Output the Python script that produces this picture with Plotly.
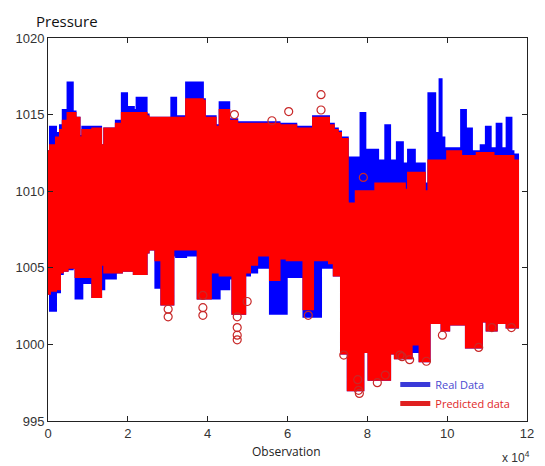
import plotly.graph_objects as go

# Observation index where each step segment starts (last entry = end of data)
obs = [0, 500, 2000, 3000, 3700, 4900, 6200, 6900, 7900, 8600, 11100, 13300, 14100,
       17000, 18500, 19800, 21500, 22200, 24700, 25200, 26900, 28400, 30900, 31400,
       32100, 34600, 37500, 38800, 39300, 40800, 42000, 43000, 45400, 46200, 47400,
       49400, 50600, 52400, 55600, 58000, 59800, 62200, 64000, 66400, 68400, 70400,
       71600, 72600, 73400, 75100, 77100, 78300, 79000, 79500, 80300, 82000, 82700,
       84500, 85700, 86900, 87400, 88900, 89400, 90200, 91100, 91900, 93100, 94400,
       95300, 95600, 97000, 98100, 98600, 99300, 100000, 100500, 103500, 104700,
       106200, 107400, 108400, 108700, 109700, 109900, 110900, 111600, 112400,
       113600, 114900, 116100, 116600, 118000]

# Predicted data: upper / lower envelope of the dense point cloud
pred_max = [1012.6, 1013.0, 1013.5, 1014.0, 1014.6, 1015.1, 1015.1, 1014.8, 1013.5, 1014.0,
            1014.1, 1013.0, 1014.1, 1014.4, 1015.1, 1015.1, 1015.1, 1015.1, 1014.9, 1014.8,
            1014.8, 1014.8, 1014.8, 1014.8, 1014.8, 1016.0, 1016.0, 1015.9, 1014.8, 1014.8,
            1014.2, 1015.3, 1014.6, 1014.6, 1014.4, 1014.4, 1014.4, 1014.4, 1014.4, 1014.3,
            1014.3, 1014.1, 1014.1, 1014.8, 1014.8, 1014.3, 1014.0, 1013.8, 1013.4, 1009.2,
            1010.0, 1010.0, 1010.0, 1010.0, 1010.0, 1010.5, 1010.5, 1010.5, 1010.5, 1010.5,
            1010.5, 1010.5, 1010.1, 1011.2, 1011.2, 1011.2, 1011.2, 1010.0, 1012.0, 1012.0,
            1012.0, 1012.0, 1012.0, 1012.0, 1012.6, 1012.6, 1012.3, 1012.3, 1012.3, 1012.5,
            1012.5, 1012.5, 1012.5, 1012.5, 1012.5, 1012.3, 1012.3, 1012.3, 1012.3, 1012.3,
            1012.0, 1012.0]
pred_min = [1003.3, 1003.5, 1003.6, 1004.7, 1004.8, 1005.0, 1005.0, 1004.4, 1004.4, 1004.4,
            1003.1, 1005.2, 1004.7, 1004.7, 1004.8, 1004.8, 1004.6, 1004.6, 1006.0, 1006.2,
            1005.5, 1002.6, 1002.6, 1006.2, 1006.2, 1006.2, 1003.0, 1003.0, 1003.0, 1004.7,
            1004.7, 1004.5, 1004.5, 1002.0, 1002.0, 1004.7, 1005.2, 1005.8, 1004.2, 1005.6,
            1005.5, 1005.5, 1002.3, 1005.5, 1005.5, 1005.3, 1004.5, 1004.5, 999.4, 997.0,
            997.0, 997.0, 999.5, 999.5, 997.7, 997.7, 997.7, 997.7, 999.4, 999.1,
            999.1, 999.1, 999.1, 999.1, 1000.0, 1000.0, 998.9, 998.9, 998.9, 1001.4,
            1001.4, 1001.4, 1000.9, 1000.9, 1000.9, 1001.3, 1001.3, 999.8, 999.8, 999.8,
            999.8, 1001.5, 1001.5, 1000.9, 1000.9, 1000.9, 1001.4, 1001.4, 1001.1, 1001.1,
            1001.1, 1001.1]

# Real data: upper / lower envelope
real_max = [1012.6, 1014.2, 1013.8, 1014.3, 1015.3, 1017.1, 1015.2, 1014.8, 1013.6, 1014.2,
            1014.2, 1013.0, 1014.1, 1014.6, 1016.4, 1015.5, 1015.3, 1016.1, 1015.0, 1014.8,
            1014.8, 1014.8, 1016.1, 1016.1, 1014.9, 1017.1, 1017.1, 1016.0, 1014.9, 1014.9,
            1014.3, 1015.8, 1014.7, 1014.7, 1014.5, 1014.5, 1014.5, 1014.5, 1014.5, 1014.4,
            1014.4, 1014.2, 1014.2, 1014.9, 1014.9, 1014.4, 1014.1, 1013.9, 1013.5, 1012.2,
            1012.2, 1015.1, 1015.1, 1012.7, 1012.7, 1012.7, 1012.0, 1014.3, 1012.0, 1011.8,
            1013.2, 1011.8, 1011.8, 1012.7, 1012.7, 1011.8, 1011.8, 1010.5, 1016.4, 1016.4,
            1013.8, 1017.3, 1013.5, 1012.8, 1012.8, 1012.8, 1015.3, 1014.1, 1012.6, 1012.6,
            1013.0, 1013.0, 1014.2, 1014.2, 1012.8, 1012.8, 1014.4, 1012.8, 1014.8, 1012.6,
            1012.4, 1012.4]
real_min = [1003.3, 1002.2, 1003.4, 1004.6, 1004.8, 1004.9, 1005.0, 1003.0, 1003.0, 1004.0,
            1003.1, 1003.6, 1004.3, 1004.7, 1004.8, 1004.8, 1004.6, 1004.6, 1006.0, 1006.2,
            1003.7, 1002.6, 1002.6, 1005.8, 1005.7, 1005.8, 1003.0, 1003.0, 1003.0, 1003.0,
            1003.0, 1003.6, 1004.3, 1002.0, 1002.0, 1004.5, 1004.7, 1005.0, 1002.0, 1002.0,
            1004.4, 1004.4, 1001.8, 1001.8, 1005.0, 1005.0, 1004.5, 1004.5, 999.4, 997.0,
            997.0, 997.0, 999.5, 999.5, 997.7, 997.7, 997.7, 997.7, 999.4, 999.1,
            999.1, 999.1, 999.1, 999.1, 999.5, 999.5, 998.9, 998.9, 998.9, 1001.4,
            1001.4, 1001.4, 1000.9, 1000.9, 1000.9, 1001.3, 1001.3, 999.8, 999.8, 999.8,
            999.8, 1001.5, 1001.5, 1000.9, 1000.9, 1000.9, 1001.4, 1001.4, 1001.1, 1001.1,
            1001.1, 1001.1]

# Isolated predicted points visible as open circles
out_obs = [68400, 68400, 60300, 56100, 46700, 49900, 38800, 38800, 38800, 47400, 47400,
           47400, 47400, 65200, 74100, 77800, 77600, 82500, 84500, 88700, 79000, 88200,
           90600, 94800, 98800, 107900, 111200, 116100, 30100, 30100, 78000]
out_val = [1016.3, 1015.3, 1015.2, 1014.6, 1015.0, 1002.8, 1003.2, 1002.4, 1001.9, 1001.8,
           1001.1, 1000.6, 1000.3, 1001.9, 999.3, 997.0, 997.7, 997.5, 998.0, 999.2,
           1010.9, 999.3, 999.0, 998.9, 1000.6, 999.8, 1001.1, 1001.1, 1002.3, 1001.8, 996.8]

xtick_vals = [0, 20000, 40000, 60000, 80000, 100000, 120000]
xtick_text = ["0", "2", "4", "6", "8", "10", "12"]
ytick_vals = [995, 1000, 1005, 1010, 1015, 1020]

BLUE = "#0000ff"
RED = "#ff0000"

fig = go.Figure()

def band(lo, hi, color):
    fig.add_trace(go.Scatter(x=obs, y=lo, mode="lines", line=dict(color=color, width=2, shape="hv"),
                             showlegend=False, hoverinfo="skip"))
    fig.add_trace(go.Scatter(x=obs, y=hi, mode="lines", line=dict(color=color, width=2, shape="hv"),
                             fill="tonexty", fillcolor=color, showlegend=False, hoverinfo="skip"))

band(real_min, real_max, BLUE)
band(pred_min, pred_max, RED)

fig.add_trace(go.Scatter(x=out_obs, y=out_val, mode="markers",
                         marker=dict(symbol="circle-open", size=8, color="#c82828", line=dict(width=1.2)),
                         showlegend=False, hoverinfo="skip"))

# legend entries
fig.add_trace(go.Scatter(x=[None], y=[None], mode="lines", line=dict(color="#3a3ad8", width=5),
                         name='<span style="color:#4a4ad0">Real Data</span>'))
fig.add_trace(go.Scatter(x=[None], y=[None], mode="lines", line=dict(color="#e02020", width=5),
                         name='<span style="color:#e02828">Predicted data</span>'))

axis_common = dict(showline=True, linecolor="#222", linewidth=1, mirror="ticks", ticks="inside",
                   ticklen=5, tickcolor="#222", showgrid=False, zeroline=False,
                   tickfont=dict(family="Liberation Sans, Arial", size=13, color="#333"))

fig.update_layout(
    width=545, height=466,
    margin=dict(l=48, r=11, t=38, b=45),
    paper_bgcolor="white", plot_bgcolor="white",
    xaxis=dict(range=[0, 120000], tickvals=xtick_vals, ticktext=xtick_text, **axis_common),
    yaxis=dict(range=[995, 1020], tickvals=ytick_vals, **axis_common),
    legend=dict(x=0.725, y=0.008, xanchor="left", yanchor="bottom", bgcolor="rgba(255,255,255,0)",
                font=dict(family="Open Sans", size=11), traceorder="normal", tracegroupgap=0,
                itemwidth=30),
    annotations=[
        dict(text="Pressure", xref="paper", yref="paper", x=-0.03, y=1.045, xanchor="left",
             yanchor="middle", showarrow=False, font=dict(family="Open Sans", size=15, color="#111")),
        dict(text="Observation", xref="paper", yref="paper", x=0.497, y=-0.08, xanchor="center",
             yanchor="middle", showarrow=False, font=dict(family="Open Sans", size=12, color="#222")),
        dict(text="x 10<sup>4</sup>", xref="paper", yref="paper", x=1.01, y=-0.095, xanchor="right",
             yanchor="middle", showarrow=False, font=dict(family="Liberation Sans, Arial", size=12, color="#333")),
    ],
)

fig.write_html("out.html")
